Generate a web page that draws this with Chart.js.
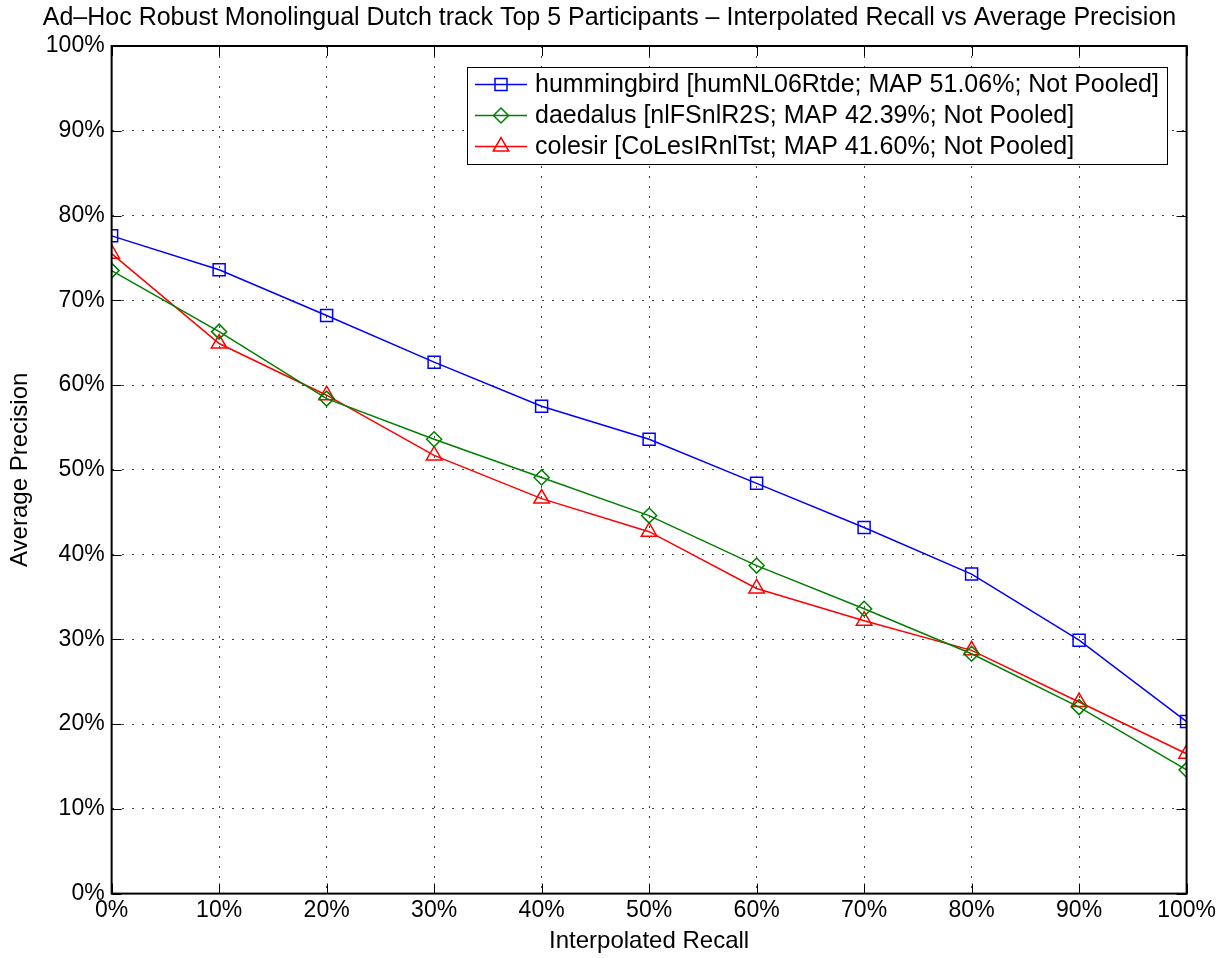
<!DOCTYPE html>
<html>
<head>
<meta charset="utf-8">
<title>Interpolated Recall vs Average Precision</title>
<script src="https://cdn.jsdelivr.net/npm/chart.js@4.4.1/dist/chart.umd.min.js"></script>
<style>
  html, body { margin: 0; padding: 0; background: #fff; }
  #wrap { width: 1219px; height: 958px; }
</style>
</head>
<body>
<div id="wrap"><canvas id="my-chart" width="1219" height="958"></canvas></div>
<script>
'use strict';

// data (percent)
const recall = [0, 10, 20, 30, 40, 50, 60, 70, 80, 90, 100];
const hummingbird = [77.6, 73.6, 68.2, 62.7, 57.5, 53.6, 48.4, 43.2, 37.7, 29.9, 20.3];
const daedalus = [73.5, 66.3, 58.4, 53.6, 49.1, 44.6, 38.7, 33.6, 28.3, 22.0, 14.6];
const colesir = [75.5, 64.9, 58.8, 51.7, 46.6, 42.7, 36.0, 32.2, 28.7, 22.6, 16.5];

const runNames = [
  'hummingbird [humNL06Rtde; MAP 51.06%; Not Pooled]',
  'daedalus [nlFSnlR2S; MAP 42.39%; Not Pooled]',
  'colesir [CoLesIRnlTst; MAP 41.60%; Not Pooled]'
];
const runColors = ['#0000ff', '#008000', '#ff0000'];
const runMarkers = ['rect', 'rectRot', 'triangle'];
const runSizes = [8.5, 7.5, 9];

const titleText = 'Ad\u2013Hoc Robust Monolingual Dutch track Top 5 Participants \u2013 Interpolated Recall vs Average Precision';
const xTitle = 'Interpolated Recall';
const yTitle = 'Average Precision';

const FONT = '"Liberation Sans", Arial, Helvetica, sans-serif';

function toPoints(vals) {
  return vals.map((v, i) => ({ x: recall[i], y: v }));
}

const allRuns = [hummingbird, daedalus, colesir];
const datasets = allRuns.map((vals, i) => ({
  label: runNames[i],
  data: toPoints(vals),
  borderColor: runColors[i],
  backgroundColor: 'rgba(0,0,0,0)',
  borderWidth: 1.5,
  pointStyle: runMarkers[i],
  pointRadius: runSizes[i],
  pointBorderWidth: 1.5,
  pointBorderColor: runColors[i],
  pointBackgroundColor: 'rgba(0,0,0,0)',
  tension: 0,
  fill: false
}));

// box round the plot + small inward ticks, matlab style
const frame = {
  id: 'frame',
  afterDatasetsDraw(chart) {
    const { ctx, chartArea: a, scales } = chart;
    ctx.save();
    ctx.strokeStyle = '#000';
    ctx.lineWidth = 1;
    scales.x.ticks.forEach(t => {
      const px = Math.round(scales.x.getPixelForValue(t.value)) + 0.5;
      ctx.beginPath();
      ctx.moveTo(px, a.bottom); ctx.lineTo(px, a.bottom - 10);
      ctx.moveTo(px, a.top); ctx.lineTo(px, a.top + 10);
      ctx.stroke();
    });
    scales.y.ticks.forEach(t => {
      const py = Math.round(scales.y.getPixelForValue(t.value)) + 0.5;
      ctx.beginPath();
      ctx.moveTo(a.left, py); ctx.lineTo(a.left + 10, py);
      ctx.moveTo(a.right, py); ctx.lineTo(a.right - 10, py);
      ctx.stroke();
    });
    ctx.lineWidth = 2;
    ctx.strokeRect(a.left, a.top, a.right - a.left, a.bottom - a.top);
    ctx.restore();
  }
};

const legendBox = {
  id: 'legendBox',
  afterDraw(chart) {
    const { ctx, chartArea: a } = chart;
    const sets = chart.data.datasets;
    ctx.save();
    ctx.font = '25px ' + FONT;
    const rowH = 31, lineLen = 52, gap = 8, padX = 8, padY = 2;
    let maxW = 0;
    sets.forEach(d => { maxW = Math.max(maxW, ctx.measureText(d.label).width); });
    const w = Math.round(padX + lineLen + gap + maxW + padX);
    const h = padY * 2 + rowH * sets.length;
    const x0 = Math.round(a.right - 20 - w), y0 = Math.round(a.top + 21);
    ctx.fillStyle = '#fff';
    ctx.fillRect(x0, y0, w, h);
    ctx.strokeStyle = '#000';
    ctx.lineWidth = 1;
    ctx.strokeRect(x0 + 0.5, y0 + 0.5, w, h);
    sets.forEach((d, i) => {
      const cy = y0 + padY + rowH * (i + 0.5);
      ctx.strokeStyle = d.borderColor;
      ctx.lineWidth = d.borderWidth;
      ctx.beginPath();
      ctx.moveTo(x0 + padX, cy);
      ctx.lineTo(x0 + padX + lineLen, cy);
      ctx.stroke();
      if (Chart.helpers && Chart.helpers.drawPoint) {
        ctx.fillStyle = 'rgba(0,0,0,0)';
        Chart.helpers.drawPoint(ctx, {
          pointStyle: d.pointStyle, radius: d.pointRadius,
          borderWidth: d.pointBorderWidth, rotation: 0
        }, x0 + padX + lineLen / 2, cy);
      }
      ctx.fillStyle = '#000';
      ctx.textBaseline = 'middle';
      ctx.textAlign = 'left';
      ctx.fillText(d.label, x0 + padX + lineLen + gap, cy + 1);
    });
    ctx.restore();
  }
};

const ctx = document.getElementById('my-chart').getContext('2d');
const chart = new Chart(ctx, {
  type: 'line',
  data: { datasets: datasets },
  plugins: [frame, legendBox],
  options: {
    responsive: false,
    animation: false,
    devicePixelRatio: 1,
    layout: { padding: { left: 6, right: 6, top: 0, bottom: 2 } },
    plugins: {
      legend: { display: false },
      tooltip: { enabled: false },
      title: {
        display: true,
        text: titleText,
        color: '#000',
        font: { family: FONT, size: 25, weight: 'normal' },
        padding: { top: 3, bottom: 13 }
      }
    },
    scales: {
      x: {
        type: 'linear',
        min: 0,
        max: 100,
        ticks: {
          stepSize: 10,
          color: '#000',
          padding: 3,
          font: { family: FONT, size: 23 },
          callback: v => v + '%'
        },
        grid: { color: '#444', lineWidth: 1, drawTicks: false },
        border: { display: false, dash: [2, 8] },
        title: {
          display: true,
          text: xTitle,
          color: '#000',
          padding: { top: 0, bottom: 0 },
          font: { family: FONT, size: 24 }
        }
      },
      y: {
        min: 0,
        max: 100,
        ticks: {
          stepSize: 10,
          color: '#000',
          padding: 7,
          font: { family: FONT, size: 23 },
          callback: v => v + '%'
        },
        grid: { color: '#444', lineWidth: 1, drawTicks: false },
        border: { display: false, dash: [2, 8] },
        title: {
          display: true,
          text: yTitle,
          color: '#000',
          padding: { top: 0, bottom: 4 },
          font: { family: FONT, size: 24 }
        }
      }
    }
  }
});
</script>
</body>
</html>
